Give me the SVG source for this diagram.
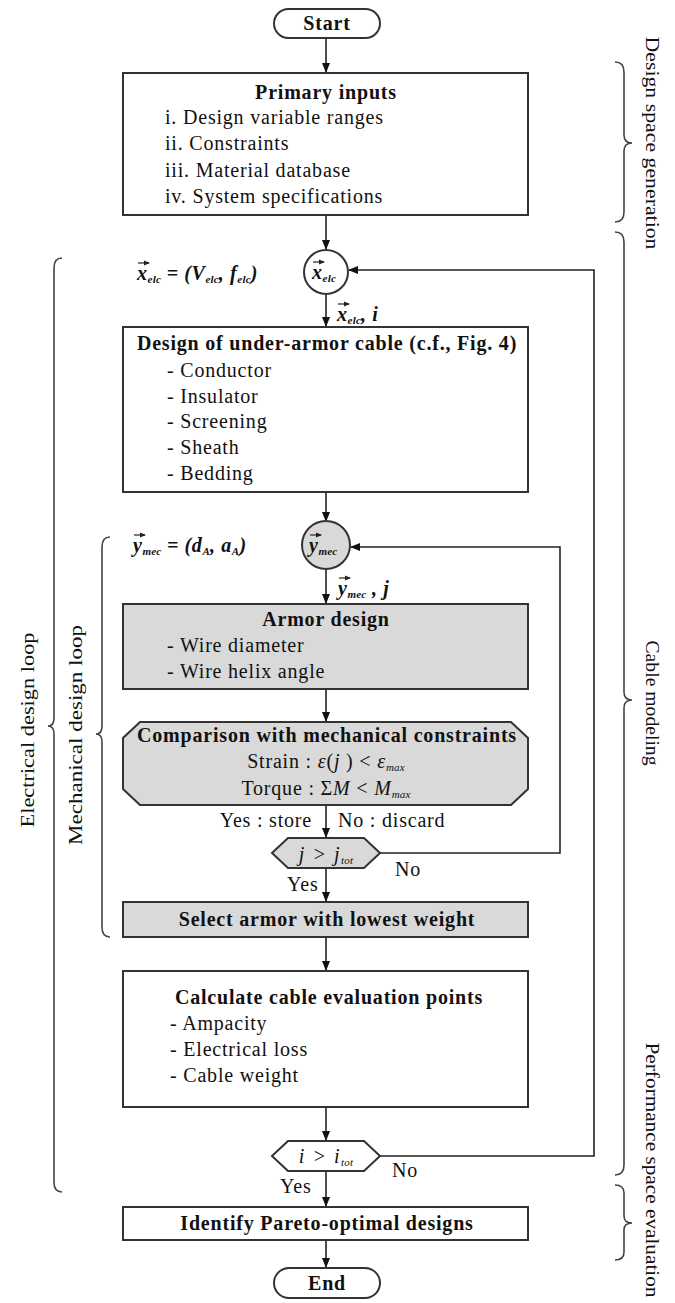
<svg xmlns="http://www.w3.org/2000/svg" width="675" height="1303" viewBox="0 0 675 1303">
<defs>
<marker id="ah" markerWidth="10" markerHeight="10" refX="9" refY="5" orient="auto" markerUnits="userSpaceOnUse"><path d="M0,1 L10,5 L0,9 z" fill="#111"/></marker>
<marker id="va" markerWidth="6" markerHeight="6" refX="5" refY="3" orient="auto" markerUnits="userSpaceOnUse"><path d="M0,0.5 L6,3 L0,5.5 z" fill="#222"/></marker>
<style>
.box{fill:#fff;stroke:#333;stroke-width:2}
.gbox{fill:#d9d9d9;stroke:#333;stroke-width:2}
.t{font-family:"Liberation Serif",serif;font-size:20px;letter-spacing:0.8px;fill:#111}
.b{font-family:"Liberation Serif",serif;font-size:20px;letter-spacing:0.8px;font-weight:bold;fill:#111}
.m{font-family:"Liberation Serif",serif;font-size:20px;letter-spacing:0.6px;font-weight:bold;font-style:italic;fill:#111}
.mi{font-family:"Liberation Serif",serif;font-size:20px;letter-spacing:1.5px;font-style:italic;fill:#111}
.sub{font-size:11px;letter-spacing:0.2px}
.c{text-anchor:middle}
.ln{fill:none;stroke:#222;stroke-width:1.6}
.br{fill:none;stroke:#444;stroke-width:1.6}
.vec{stroke:#222;stroke-width:1.2;fill:none}
.side{font-family:"Liberation Serif",serif;font-size:19px;fill:#111;text-anchor:middle}
</style>
</defs>

<g id="connectors">
<path class="ln" d="M326,38 L326,72" marker-end="url(#ah)"/>
<path class="ln" d="M326,215 L326,249" marker-end="url(#ah)"/>
<path class="ln" d="M380,1156 L594,1156 L594,270 L349,270" marker-end="url(#ah)"/>
<path class="ln" d="M326,294 L326,326" marker-end="url(#ah)"/>
<path class="ln" d="M326,492 L326,521" marker-end="url(#ah)"/>
<path class="ln" d="M326,569 L326,603" marker-end="url(#ah)"/>
<path class="ln" d="M326,689 L326,721" marker-end="url(#ah)"/>
<path class="ln" d="M326,805 L326,837" marker-end="url(#ah)"/>
<path class="ln" d="M380,853 L560,853 L560,547 L351,547" marker-end="url(#ah)"/>
<path class="ln" d="M326,868 L326,901" marker-end="url(#ah)"/>
<path class="ln" d="M326,937 L326,970" marker-end="url(#ah)"/>
<path class="ln" d="M326,1107 L326,1140" marker-end="url(#ah)"/>
<path class="ln" d="M326,1171 L326,1206" marker-end="url(#ah)"/>
<path class="ln" d="M326,1240 L326,1267" marker-end="url(#ah)"/>
</g>

<g id="start">
<rect class="box" x="274" y="9" width="106" height="29" rx="14.5"/>
<text class="b c" x="327" y="30">Start</text>
</g>

<g id="primary-inputs">
<rect class="box" x="123" y="73" width="405" height="142"/>
<text class="b c" x="326" y="99">Primary inputs</text>
<text class="t" x="165" y="124">i. Design variable ranges</text>
<text class="t" x="165" y="150">ii. Constraints</text>
<text class="t" x="165" y="177">iii. Material database</text>
<text class="t" x="165" y="203">iv. System specifications</text>
</g>

<g id="x-elc">
<text class="m" x="137" y="280">x<tspan class="sub" dy="3">elc</tspan><tspan dy="-3"> = (V</tspan><tspan class="sub" dy="3">elc</tspan><tspan dy="-3">, f</tspan><tspan class="sub" dy="3">elc</tspan><tspan dy="-3">)</tspan></text>
<path class="vec" d="M138,263 L149,263" marker-end="url(#va)"/>
<circle class="box" cx="326" cy="272" r="22"/>
<text class="m" x="312" y="279">x<tspan class="sub" dy="3">elc</tspan></text>
<path class="vec" d="M313,262 L324,262" marker-end="url(#va)"/>
<text class="m" x="337" y="321">x<tspan class="sub" dy="3">elc</tspan><tspan dy="-3">, i</tspan></text>
<path class="vec" d="M338,304 L349,304" marker-end="url(#va)"/>
</g>

<g id="under-armor">
<rect class="box" x="123" y="327" width="405" height="165"/>
<text class="b c" x="327" y="350">Design of under-armor cable (c.f., Fig. 4)</text>
<text class="t" x="167" y="377">- Conductor</text>
<text class="t" x="167" y="403">- Insulator</text>
<text class="t" x="167" y="428">- Screening</text>
<text class="t" x="167" y="454">- Sheath</text>
<text class="t" x="167" y="480">- Bedding</text>
</g>

<g id="y-mec">
<text class="m" x="133" y="552">y<tspan class="sub" dy="3">mec</tspan><tspan dy="-3"> = (d</tspan><tspan class="sub" dy="3">A</tspan><tspan dy="-3">, a</tspan><tspan class="sub" dy="3">A</tspan><tspan dy="-3">)</tspan></text>
<path class="vec" d="M134,535 L145,535" marker-end="url(#va)"/>
<circle class="gbox" cx="326" cy="545" r="24"/>
<text class="m" x="309" y="552">y<tspan class="sub" dy="3">mec</tspan></text>
<path class="vec" d="M310,535 L321,535" marker-end="url(#va)"/>
<text class="m" x="338" y="595">y<tspan class="sub" dy="3">mec</tspan><tspan dy="-3"> , j</tspan></text>
<path class="vec" d="M339,578 L350,578" marker-end="url(#va)"/>
</g>

<g id="armor-design">
<rect class="gbox" x="123" y="604" width="405" height="85"/>
<text class="b c" x="326" y="626">Armor design</text>
<text class="t" x="167" y="652">- Wire diameter</text>
<text class="t" x="167" y="678">- Wire helix angle</text>
</g>

<g id="comparison">
<path class="gbox" d="M140,722 L511,722 L528,738 L528,789 L511,805 L140,805 L123,789 L123,738 Z"/>
<text class="b c" x="327" y="742">Comparison with mechanical constraints</text>
<text class="t c" x="326" y="768">Strain : <tspan font-style="italic">ε</tspan>(<tspan font-style="italic">j</tspan> ) &lt; <tspan font-style="italic">ε</tspan><tspan class="sub" font-style="italic" dy="3">max</tspan></text>
<text class="t c" x="326" y="795">Torque : Σ<tspan font-style="italic">M</tspan> &lt; <tspan font-style="italic">M</tspan><tspan class="sub" font-style="italic" dy="3">max</tspan></text>
<text class="t" x="312" y="827" text-anchor="end">Yes : store</text>
<text class="t" x="338" y="827">No : discard</text>
</g>

<g id="j-check">
<path class="gbox" d="M272,853 L288,838 L364,838 L380,853 L364,868 L288,868 Z"/>
<text class="mi c" x="326" y="861">j &gt; j<tspan class="sub" dy="3">tot</tspan></text>
<text class="t" x="395" y="876">No</text>
<text class="t" x="287" y="891">Yes</text>
</g>

<g id="select-armor">
<rect class="gbox" x="123" y="902" width="405" height="35"/>
<text class="b c" x="327" y="926">Select armor with lowest weight</text>
</g>

<g id="evaluation">
<rect class="box" x="123" y="971" width="405" height="136"/>
<text class="b c" x="329" y="1004">Calculate cable evaluation points</text>
<text class="t" x="170" y="1030">- Ampacity</text>
<text class="t" x="170" y="1056">- Electrical loss</text>
<text class="t" x="170" y="1082">- Cable weight</text>
</g>

<g id="i-check">
<path class="box" d="M272,1156 L288,1141 L364,1141 L380,1156 L364,1171 L288,1171 Z"/>
<text class="mi c" x="326" y="1163">i &gt; i<tspan class="sub" dy="3">tot</tspan></text>
<text class="t" x="392" y="1177">No</text>
<text class="t" x="280" y="1193">Yes</text>
</g>

<g id="pareto">
<rect class="box" x="123" y="1207" width="405" height="33"/>
<text class="b c" x="327" y="1230">Identify Pareto-optimal designs</text>
</g>

<g id="end">
<rect class="box" x="274" y="1268" width="106" height="30" rx="15"/>
<text class="b c" x="327" y="1290">End</text>
</g>

<g id="braces">
<path class="br" d="M615,62 Q624,62 624,72 L624,135 Q624,143 632,143 Q624,143 624,151 L624,212 Q624,222 615,222"/>
<path class="br" d="M615,232 Q624,232 624,242 L624,692 Q624,700 632,700 Q624,700 624,708 L624,1165 Q624,1175 615,1175"/>
<path class="br" d="M615,1185 Q624,1185 624,1193 L624,1216 Q624,1223 632,1223 Q624,1223 624,1230 L624,1252 Q624,1260 615,1260"/>
<path class="br" d="M62,258 Q54,258 54,268 L54,718 Q54,726 48,726 Q54,726 54,734 L54,1182 Q54,1192 62,1192"/>
<path class="br" d="M110,537 Q102,537 102,547 L102,726 Q102,734 96,734 Q102,734 102,742 L102,927 Q102,937 110,937"/>
</g>

<g id="side-labels">
<text class="side" transform="translate(646,143) rotate(90)" textLength="213" lengthAdjust="spacingAndGlyphs">Design space generation</text>
<text class="side" transform="translate(646,703) rotate(90)" textLength="125" lengthAdjust="spacingAndGlyphs">Cable modeling</text>
<text class="side" transform="translate(646,1170) rotate(90)" textLength="255" lengthAdjust="spacingAndGlyphs">Performance space evaluation</text>
<text class="side" transform="translate(34,730) rotate(-90)" textLength="195" lengthAdjust="spacingAndGlyphs">Electrical design loop</text>
<text class="side" transform="translate(82,735) rotate(-90)" textLength="220" lengthAdjust="spacingAndGlyphs">Mechanical design loop</text>
</g>
</svg>
